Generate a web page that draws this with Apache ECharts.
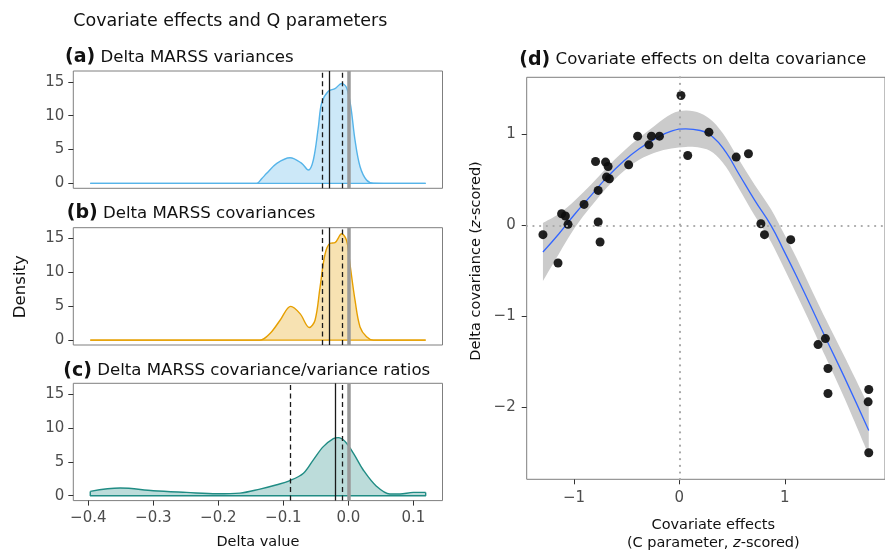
<!DOCTYPE html>
<html><head><meta charset="utf-8">
<script src="https://cdn.jsdelivr.net/npm/echarts@6/dist/echarts.min.js"></script>
<style>html,body{margin:0;padding:0;background:#fff}#c{width:885px;height:551px}</style>
</head><body><div id="c"></div>
<script>
// ---- Data ----
const densA = [[-0.397,0],[-0.141,0],[-0.133,0.74],[-0.1256,1.49],[-0.110,2.97],[-0.0897,3.8],[-0.0717,2.97],[-0.0615,1.98],[-0.0538,3.46],[-0.046,8.4],[-0.041,11.9],[-0.0308,13.6],[-0.0205,14.0],[-0.0102,14.75],[-0.0025,14.1],[0.0037,11.4],[0.0103,6.4],[0.018,2.5],[0.028,0.5],[0.0385,0.05],[0.119,0]];
const densB = [[-0.397,0],[-0.136,0],[-0.1205,0.98],[-0.105,2.93],[-0.0886,4.98],[-0.0743,3.91],[-0.06,1.86],[-0.0512,2.93],[-0.0435,7.8],[-0.0358,12.7],[-0.028,14.3],[-0.0205,14.4],[-0.0102,15.7],[-0.0025,14.66],[0.0026,11.2],[0.0103,5.9],[0.018,1.95],[0.028,0.5],[0.0385,0],[0.119,0]];
const densC = [[-0.397,0.64],[-0.351,1.13],[-0.3,0.74],[-0.249,0.49],[-0.202,0.29],[-0.1667,0.39],[-0.136,0.98],[-0.110,1.62],[-0.0908,2.2],[-0.069,3.33],[-0.0538,5.3],[-0.0385,7.25],[-0.023,8.43],[-0.0154,8.58],[-0.005,8.0],[0.0077,6.3],[0.023,3.8],[0.0436,1.37],[0.064,0.25],[0.0795,0.25],[0.1,0.49],[0.119,0.49]];
const vlinesA = {dashed:[-0.0394,-0.006], solid:[-0.0256], zero:[0]};
const vlinesB = {dashed:[-0.0374,-0.0077], solid:[-0.028], zero:[0]};
const vlinesC = {dashed:[-0.0908,-0.0077], solid:[-0.023], zero:[0]};
const densTicks = [0,5,10,15];
const deltaTicks = [-0.4,-0.3,-0.2,-0.1,0,0.1];

const covX = [-1.294,-1.151,-1.117,-1.081,-1.056,-0.904,-0.795,-0.770,-0.770,-0.752,-0.700,-0.676,-0.691,-0.664,-0.481,-0.396,-0.289,-0.265,-0.189,0.015,0.079,0.280,0.539,0.655,0.773,0.807,1.056,1.315,1.385,1.409,1.409,1.796,1.790,1.796];
const covY = [-0.102,-0.414,0.128,0.103,0.011,0.231,0.704,0.385,0.037,-0.183,0.697,0.649,0.532,0.513,0.667,0.983,0.887,0.983,0.983,1.430,0.770,1.027,0.752,0.789,0.018,-0.102,-0.157,-1.313,-1.247,-1.577,-1.852,-1.808,-1.944,-2.505];
const fitX = [-1.294,-1.142,-0.989,-0.837,-0.685,-0.532,-0.381,-0.228,-0.076,0.061,0.198,0.320,0.441,0.563,0.715,0.868,1.0,1.111,1.25,1.385,1.568,1.796];
const fitY = [-0.293,-0.092,0.128,0.33,0.531,0.704,0.844,0.954,1.037,1.064,1.045,0.971,0.806,0.569,0.275,0.0,-0.3,-0.56,-0.9,-1.235,-1.68,-2.26];
const bandUp = [0.027,0.128,0.278,0.45,0.641,0.814,0.964,1.104,1.227,1.264,1.235,1.141,0.966,0.729,0.445,0.18,-0.11,-0.36,-0.7,-1.025,-1.45,-1.99];
const bandLo = [-0.613,-0.312,-0.022,0.21,0.421,0.594,0.724,0.804,0.847,0.864,0.855,0.801,0.646,0.409,0.105,-0.18,-0.49,-0.76,-1.1,-1.445,-1.91,-2.53];
const covTicksX = [-1,0,1];
const covTicksY = [-2,-1,0,1];

// ---- Chart ----
const FONT = 'DejaVu Sans';
const chart = echarts.init(document.getElementById('c'));
const fmtMinus = (v, d) => (v < -1e-9 ? '\u2212' : '') + Math.abs(v).toFixed(d);

const gridTops = [71, 227.7, 383.3];
const grids = gridTops.map(t => ({left:73.3, top:t, width:369.2, height:117.3, show:true, borderColor:'#7f7f7f', borderWidth:1, backgroundColor:'#fff'}));
grids.push({left:526.7, top:77.3, width:372.1, height:402, show:true, borderColor:'#7f7f7f', borderWidth:1, backgroundColor:'#fff'});

const tickStyle = {color:'#333', width:1};
const labelBase = {color:'#4d4d4d', fontSize:15, fontFamily:FONT};
const noLine = {show:false, onZero:false};

const xAxes = [0,1,2].map(i => ({
  type:'value', gridIndex:i, min:-0.4231, max:0.1449, position:'bottom',
  axisLine:noLine, splitLine:{show:false},
  axisTick:{show:i===2, length:5, lineStyle:tickStyle, customValues:deltaTicks},
  axisLabel:Object.assign({show:i===2, margin:10, customValues:deltaTicks, formatter:v=>fmtMinus(v,1)}, labelBase)
}));
xAxes.push({
  type:'value', gridIndex:3, min:-1.448, max:1.95, position:'bottom',
  axisLine:noLine, splitLine:{show:false},
  axisTick:{show:true, length:5, lineStyle:tickStyle, customValues:covTicksX},
  axisLabel:Object.assign({margin:11, customValues:covTicksX, formatter:v=>fmtMinus(v,0)}, labelBase)
});
const yAxes = [0,1,2].map(i => ({
  type:'value', gridIndex:i, min:-0.72, max:16.6, position:'left',
  axisLine:noLine, splitLine:{show:false},
  axisTick:{show:true, length:5, lineStyle:tickStyle, customValues:densTicks},
  axisLabel:Object.assign({margin:9, customValues:densTicks, formatter:v=>String(v)}, labelBase)
}));
yAxes.push({
  type:'value', gridIndex:3, min:-2.797, max:1.631, position:'left',
  axisLine:noLine, splitLine:{show:false},
  axisTick:{show:true, length:5, lineStyle:tickStyle, customValues:covTicksY},
  axisLabel:Object.assign({margin:11, customValues:covTicksY, formatter:v=>fmtMinus(v,0)}, labelBase)
});

const dens = [densA, densB, densC];
const vls = [vlinesA, vlinesB, vlinesC];
const cols = ['#56B4E9', '#E69F00', '#208C84'];
const series = [];
dens.forEach((d, i) => {
  series.push({
    type:'line', xAxisIndex:i, yAxisIndex:i, data:d, smooth:0.35,
    showSymbol:false, symbol:'none', silent:true, z:2,
    lineStyle:{color:cols[i], width:1.4},
    areaStyle:{color:cols[i], opacity:0.3, origin:0}
  });
  const first = d[0], last = d[d.length-1];
  const ml = [];
  vls[i].zero.forEach(v => ml.push({xAxis:v, lineStyle:{color:'#9a9a9a', width:3.5, type:'solid'}}));
  vls[i].solid.forEach(v => ml.push({xAxis:v, lineStyle:{color:'#1a1a1a', width:1.3, type:'solid'}}));
  vls[i].dashed.forEach(v => ml.push({xAxis:v, lineStyle:{color:'#1a1a1a', width:1.3, type:[5,3.5]}}));
  series.push({
    type:'line', xAxisIndex:i, yAxisIndex:i, data:[[first[0],first[1]],[first[0],0],[last[0],0],[last[0],last[1]]],
    showSymbol:false, symbol:'none', silent:true, z:3,
    lineStyle:{color:cols[i], width:1.4},
    markLine:{symbol:['none','none'], silent:true, label:{show:false}, animation:false, data:ml}
  });
});

// Smooth path (Catmull-Rom rendered as Bezier) through pixel points
function crPath(pts, start) {
  let s = start ? 'M' + pts[0][0] + ' ' + pts[0][1] : 'L' + pts[0][0] + ' ' + pts[0][1];
  for (let k = 0; k < pts.length - 1; k++) {
    const p0 = pts[Math.max(k-1,0)], p1 = pts[k], p2 = pts[k+1], p3 = pts[Math.min(k+2, pts.length-1)];
    const c1 = [p1[0] + (p2[0]-p0[0])/6, p1[1] + (p2[1]-p0[1])/6];
    const c2 = [p2[0] - (p3[0]-p1[0])/6, p2[1] - (p3[1]-p1[1])/6];
    s += ' C' + c1[0] + ' ' + c1[1] + ' ' + c2[0] + ' ' + c2[1] + ' ' + p2[0] + ' ' + p2[1];
  }
  return s;
}
series.push({
  type:'custom', xAxisIndex:3, yAxisIndex:3, data:[[fitX[0], fitY[0]]], silent:true, z:1,
  renderItem:function(params, api){
    const up = [], lo = [];
    for (let k=0;k<fitX.length;k++) up.push(api.coord([fitX[k], bandUp[k]]));
    for (let k=fitX.length-1;k>=0;k--) lo.push(api.coord([fitX[k], bandLo[k]]));
    const d = crPath(up, true) + ' ' + crPath(lo, false) + ' Z';
    return {type:'path', shape:{pathData:d}, style:{fill:'#cbcbcb', stroke:null}};
  }
});
series.push({
  type:'line', xAxisIndex:3, yAxisIndex:3, data:fitX.map((x,k)=>[x, fitY[k]]), smooth:0.5,
  showSymbol:false, symbol:'none', silent:true, z:3,
  lineStyle:{color:'#3366FF', width:1.3},
  markLine:{symbol:['none','none'], silent:true, label:{show:false}, animation:false,
    lineStyle:{color:'#a8a8a8', width:2.2, type:[0.1,6.6], cap:'round'},
    data:[{xAxis:0},{yAxis:0}]}
});
series.push({
  type:'scatter', xAxisIndex:3, yAxisIndex:3, data:covX.map((x,k)=>[x, covY[k]]),
  symbol:'circle', symbolSize:9, silent:true, z:4,
  itemStyle:{color:'#0d0d0d', opacity:0.92}
});

const T = (x, y, text, opt) => Object.assign({type:'text', x:x, y:y, silent:true,
  style:Object.assign({text:text, fill:'#111', fontFamily:FONT, fontSize:15, verticalAlign:'middle', align:'left'}, opt||{})});
const richSub = {b:{fontFamily:FONT, fontWeight:'bold', fontSize:19, fill:'#111'}, n:{fontFamily:FONT, fontSize:16.6, fill:'#111'}};
const richIt = {n:{fontFamily:FONT, fontSize:14.5, fill:'#111'}, i:{fontFamily:FONT, fontSize:14.5, fontStyle:'italic', fill:'#111'}};

const graphics = [
  T(73.3, 21.7, 'Covariate effects and Q parameters', {fontSize:17.5}),
  T(65, 57.5, '{b|(a)}{n| Delta MARSS variances}', {rich:richSub}),
  T(66.7, 213.3, '{b|(b)}{n| Delta MARSS covariances}', {rich:richSub}),
  T(63.3, 371, '{b|(c)}{n| Delta MARSS covariance/variance ratios}', {rich:richSub}),
  T(519.3, 60, '{b|(d)}{n| Covariate effects on delta covariance}', {rich:richSub}),
  T(257.9, 542.7, 'Delta value', {fontSize:14.5, align:'center'}),
  Object.assign(T(21, 286.7, 'Density', {fontSize:16.6, align:'center'}), {rotation:Math.PI/2}),
  T(713.3, 525, 'Covariate effects', {fontSize:14.5, align:'center'}),
  T(713.3, 543.3, '{n|(C parameter, }{i|z}{n|-scored)}', {rich:richIt, align:'center'}),
  Object.assign(T(476, 261, '{n|Delta covariance (}{i|z}{n|-scored)}', {rich:richIt, align:'center'}), {rotation:Math.PI/2})
];

chart.setOption({
  animation:false,
  backgroundColor:'#fff',
  grid:grids, xAxis:xAxes, yAxis:yAxes, series:series, graphic:graphics
});
</script></body></html>
